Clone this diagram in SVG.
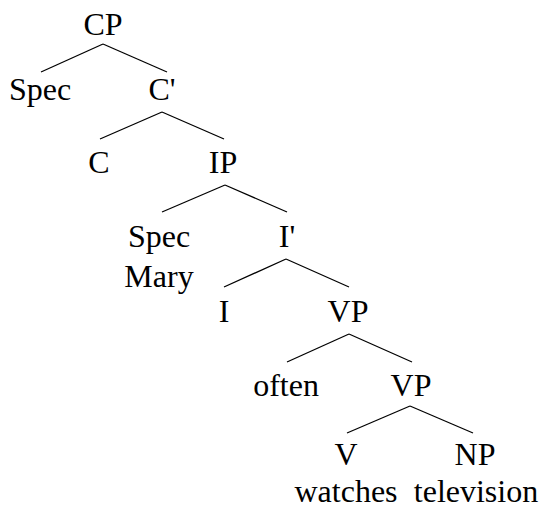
<svg xmlns="http://www.w3.org/2000/svg" width="541" height="508" viewBox="0 0 541 508">
<style>
text{font-family:"Liberation Serif","Times New Roman",serif;font-size:32px;fill:#000;text-anchor:middle}
line{stroke:#000;stroke-width:1.3}
</style>
<rect width="541" height="508" fill="#fff"/>
<g id="connectors">
<line x1="103" y1="44" x2="41" y2="72"/><line x1="103" y1="44" x2="167" y2="72"/>
<line x1="162" y1="112" x2="100" y2="139"/><line x1="162" y1="112" x2="224" y2="139"/>
<line x1="225" y1="185" x2="162" y2="212"/><line x1="225" y1="185" x2="287" y2="212"/>
<line x1="286" y1="259" x2="224" y2="287"/><line x1="286" y1="259" x2="349" y2="287"/>
<line x1="349" y1="334" x2="287" y2="362"/><line x1="349" y1="334" x2="412" y2="362"/>
<line x1="410" y1="406" x2="347" y2="433"/><line x1="410" y1="406" x2="473" y2="433"/>
</g>
<g id="CP"><text x="103" y="35">CP</text></g>
<g id="Spec1"><text x="40" y="100">Spec</text></g>
<g id="Cbar"><text x="162" y="100">C'</text></g>
<g id="C"><text x="99" y="173">C</text></g>
<g id="IP"><text x="223" y="173">IP</text></g>
<g id="Spec2"><text x="159" y="247">Spec</text><text x="159" y="287">Mary</text></g>
<g id="Ibar"><text x="287" y="247">I'</text></g>
<g id="I"><text x="224" y="322">I</text></g>
<g id="VP1"><text x="348" y="322">VP</text></g>
<g id="often"><text x="286" y="396">often</text></g>
<g id="VP2"><text x="411" y="396">VP</text></g>
<g id="V"><text x="346" y="465">V</text><text x="346" y="502">watches</text></g>
<g id="NP"><text x="475" y="465">NP</text><text x="476" y="502">television</text></g>
</svg>
